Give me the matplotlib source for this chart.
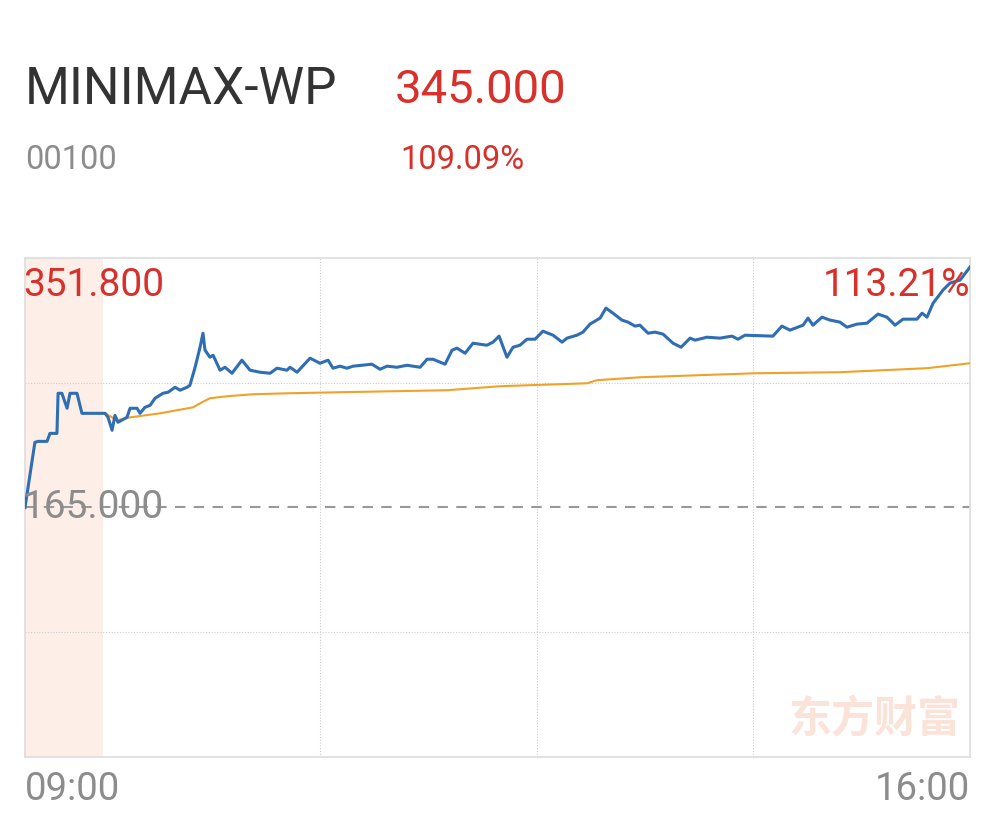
import matplotlib
matplotlib.use("Agg")
import matplotlib.pyplot as plt

plt.rcParams['font.family'] = ['Roboto', 'Noto Sans CJK SC', 'DejaVu Sans']

# intraday data, minutes after 09:00
price_t = [0, 4.4, 5.8, 9.8, 11.1, 14.2, 14.7, 16.4, 18.7, 20.0, 23.1, 25.3, 35.6,
           36.9, 38.7, 40.0, 41.3, 45.3, 46.7, 49.8, 51.1, 53.3, 55.6, 57.8, 61.3,
           63.6, 66.7, 68.9, 72.0, 73.3, 75.6, 77.8, 79.1, 80.0, 82.2, 83.6, 86.7,
           88.9, 92.0, 96.4, 100.0, 104.4, 108.9, 112.0, 116.4, 117.8, 120.9, 126.7,
           131.1, 134.7, 136.9, 140.0, 143.1, 145.8, 154.2, 157.8, 160.9, 165.3,
           169.8, 175.6, 178.7, 181.3, 186.7, 189.8, 192.0, 195.6, 199.1, 205.3,
           208.0, 210.7, 214.2, 216.9, 220.0, 223.1, 226.7, 230.2, 234.7, 238.7,
           240.9, 245.3, 248.0, 251.1, 255.6, 258.2, 261.3, 265.3, 268.0, 271.1,
           273.3, 276.9, 280.0, 283.6, 288.0, 291.6, 295.6, 297.8, 303.1, 308.9,
           314.2, 316.9, 320.0, 332.4, 336.4, 340.0, 345.8, 348.0, 350.2, 354.2,
           357.8, 362.2, 365.3, 369.8, 374.2, 379.1, 383.1, 386.7, 390.2, 396.4,
           398.7, 400.9, 403.6, 408.0, 411.1, 415.6, 420.0]
price = [165.0, 213.8, 214.5, 214.5, 220.5, 220.5, 250.5, 250.5, 239.3, 250.5, 250.5,
         235.5, 235.5, 232.5, 222.8, 234.0, 228.8, 232.5, 239.3, 239.3, 235.5, 240.0,
         241.5, 246.8, 250.5, 251.3, 255.0, 252.8, 255.0, 256.5, 270.0, 285.0, 295.5,
         282.8, 277.5, 279.0, 267.8, 270.0, 265.5, 275.3, 267.8, 266.3, 265.5, 269.3,
         267.8, 270.0, 266.3, 276.8, 273.0, 275.3, 269.3, 270.8, 269.3, 270.8, 272.3,
         268.5, 270.8, 270.0, 271.5, 270.0, 276.0, 276.0, 272.3, 282.8, 284.3, 280.5,
         288.0, 286.5, 288.8, 293.3, 277.5, 285.0, 286.5, 291.0, 291.0, 297.0, 294.0,
         288.8, 291.8, 294.0, 296.3, 302.3, 306.8, 314.3, 310.5, 305.3, 303.8, 300.8,
         301.5, 295.5, 296.3, 294.8, 288.0, 285.0, 291.8, 290.3, 292.5, 291.8, 293.3,
         291.0, 294.0, 293.3, 300.8, 297.8, 301.5, 306.8, 301.5, 307.5, 305.3, 303.8,
         300.0, 302.3, 303.0, 309.8, 307.5, 301.5, 306.0, 306.0, 310.5, 307.5, 318.0,
         327.8, 333.0, 335.3, 345.0]

avg_t = [35.6, 40.9, 46.7, 60.0, 74.7, 78.7, 82.2, 89.8, 101.3, 116.4, 140.0, 187.6,
         211.1, 249.8, 254.2, 273.3, 324.4, 362.2, 400.9, 420.0]
avg_price = [235.5, 230.3, 232.5, 235.5, 240.0, 243.8, 246.8, 248.3, 249.8, 250.5,
             251.3, 252.8, 255.8, 258.0, 260.3, 262.5, 265.5, 266.3, 269.3, 273.0]

prev_close = 165.0
high_price = 351.8
last_price = 345.0
name = "MINIMAX-WP"
code = "00100"
pct = (last_price / prev_close - 1) * 100
top_pct = (high_price / prev_close - 1) * 100

red = "#d8302b"
grey = "#8c8c8c"

fig = plt.figure(figsize=(9.96, 8.18), dpi=100)
ax = fig.add_axes([25 / 996, 1 - 757 / 818, 945 / 996, 499 / 818])

span = high_price - prev_close
ax.set_xlim(0, 420)
ax.set_ylim(prev_close - span, high_price)

# pre-open shading
ax.axvspan(0, 34.7, color="#fdeee8", zorder=0, lw=0)

for t in [131.1, 227.6, 323.6]:
    ax.axvline(t, color="#cccccc", lw=0.8, ls=(0, (1, 1.5)), zorder=1)
for p in [prev_close + span / 2, prev_close - span / 2]:
    ax.axhline(p, color="#cccccc", lw=0.8, ls=(0, (1, 1.5)), zorder=1)
ax.axhline(prev_close, color="#999999", lw=1.5, ls=(0, (5, 4)), zorder=1)

ax.plot(avg_t, avg_price, color="#f0a228", lw=1.5, zorder=3)
ax.plot(price_t, price, color="#2f6db4", lw=2.2, zorder=4, solid_joinstyle="round")

for s in ax.spines.values():
    s.set_color("#dddddd")
    s.set_linewidth(1.2)
ax.set_xticks([])
ax.set_yticks([])

ax.text(-0.002, 0.945, f"{high_price:.3f}", transform=ax.transAxes, color=red,
        fontsize=28, va="center", ha="left", zorder=5)
ax.text(1.0, 0.945, f"{top_pct:.2f}%", transform=ax.transAxes, color=red,
        fontsize=28, va="center", ha="right", zorder=5)
ax.text(-0.002, prev_close, f"{prev_close:.3f}", transform=ax.get_yaxis_transform(),
        color=grey, fontsize=28, va="center", ha="left", zorder=5)
ax.text(0.99, 0.075, "东方财富", transform=ax.transAxes, color="#fbe3da",
        fontsize=31, fontweight="bold", family=["Noto Sans CJK SC"],
        va="center", ha="right", zorder=2)

fig.text(25 / 996, 1 - 90 / 818, name, color="#333333", fontsize=37, va="center", ha="left")
fig.text(395 / 996, 1 - 90 / 818, f"{last_price:.3f}", color=red, fontsize=34,
         va="center", ha="left")
fig.text(25 / 996, 1 - 160 / 818, code, color=grey, fontsize=23.5, va="center", ha="left")
fig.text(400 / 996, 1 - 160 / 818, f"{pct:.2f}%", color=red, fontsize=23.5,
         va="center", ha="left")

fig.text(25 / 996, 1 - 789 / 818, "09:00", color=grey, fontsize=27.5, va="center", ha="left")
fig.text(970 / 996, 1 - 789 / 818, "16:00", color=grey, fontsize=27.5, va="center", ha="right")

fig.savefig("out.png", dpi=100)
